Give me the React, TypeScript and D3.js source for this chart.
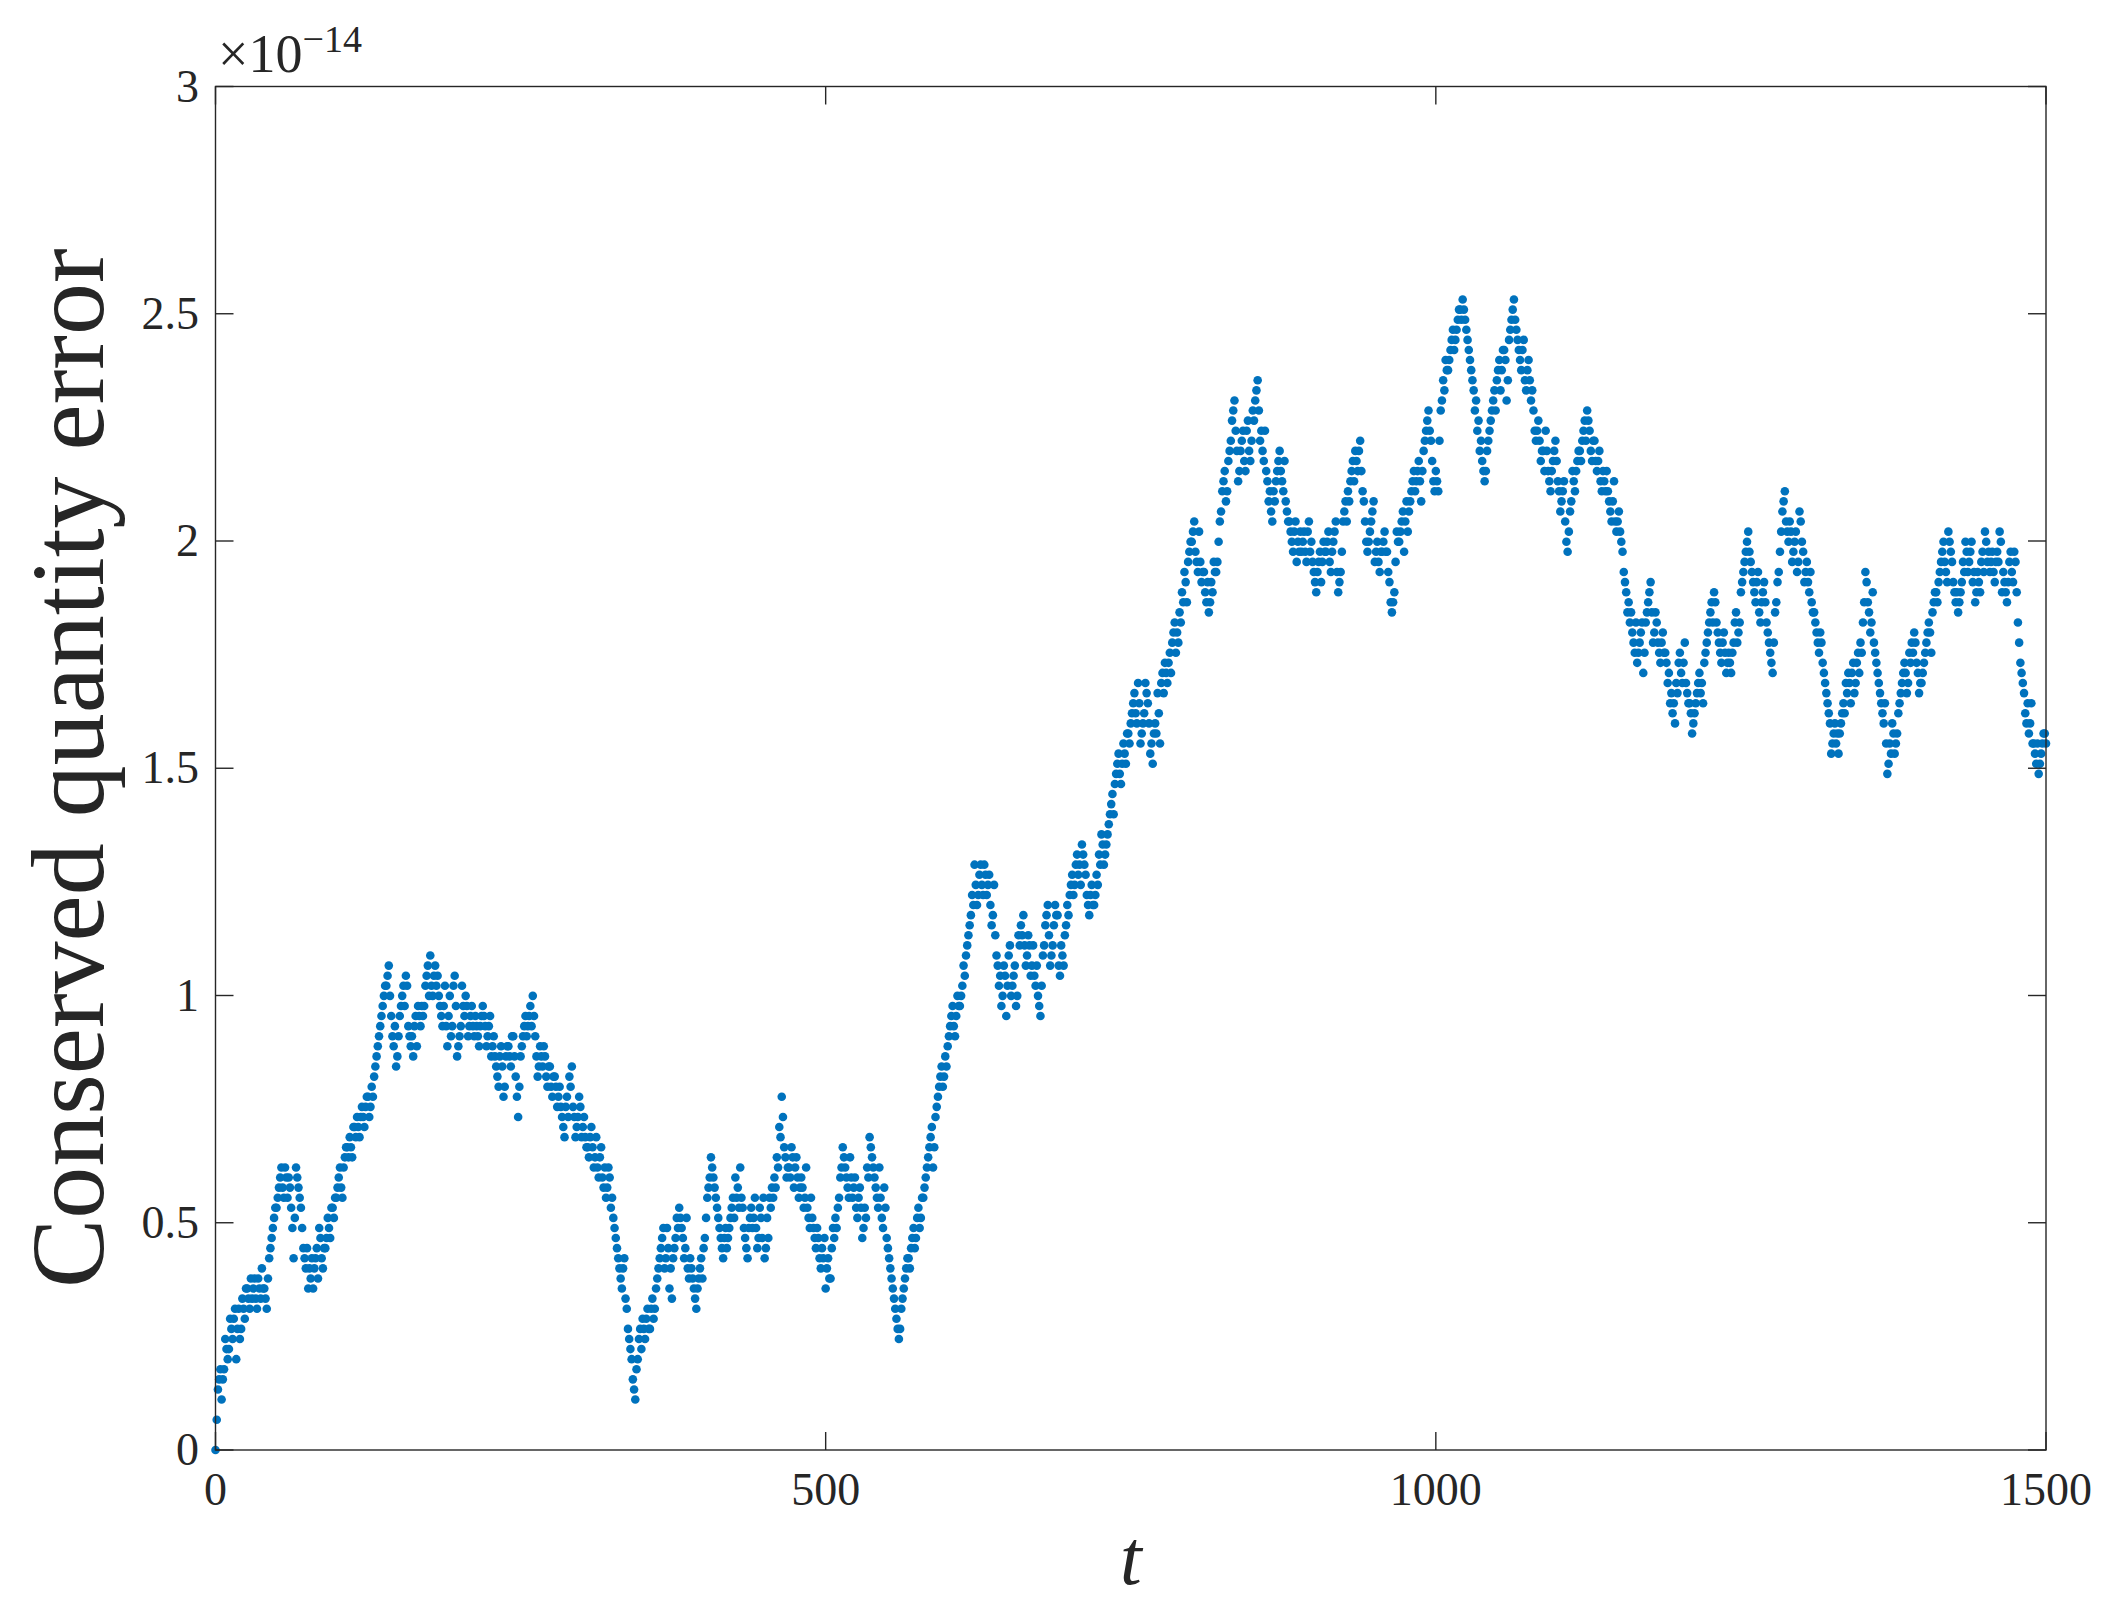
import React from "react";
import * as d3 from "d3";

// machine epsilon: the error takes integer multiples of it
const EPS = 2.220446049250313e-16;

// conserved-quantity error in units of EPS at even times t = 0, 2, 4, … 1500
const levelsEven: number[] = [
  0, 6, 8, 7, 11, 9, 13, 11, 14, 12, 11, 15, 13, 16, 14, 15, 17, 14, 16, 18, 16, 14, 19, 21, 23,
  24, 26, 28, 25, 27, 27, 24, 19, 28, 26, 24, 20, 18, 16, 17, 16, 19, 17, 21, 18, 20, 23, 21, 24, 25,
  26, 28, 25, 29, 30, 31, 29, 32, 33, 31, 34, 32, 35, 33, 36, 37, 39, 41, 43, 45, 46, 48, 43, 40, 38,
  41, 44, 46, 47, 42, 40, 39, 43, 44, 42, 43, 46, 48, 49, 45, 48, 47, 44, 42, 46, 40, 45, 42, 47, 39,
  41, 46, 43, 44, 42, 44, 41, 42, 40, 43, 43, 40, 42, 39, 41, 38, 36, 40, 35, 39, 40, 38, 41, 37, 33,
  39, 41, 43, 42, 44, 45, 41, 37, 40, 38, 39, 36, 38, 35, 37, 34, 36, 33, 31, 35, 37, 38, 33, 32, 35,
  31, 33, 30, 29, 32, 28, 31, 27, 30, 26, 25, 28, 24, 23, 21, 19, 17, 18, 15, 12, 10, 7, 5, 9, 12,
  13, 11, 14, 12, 15, 14, 17, 19, 21, 18, 22, 16, 15, 20, 23, 24, 22, 19, 23, 17, 18, 16, 14, 17, 19,
  20, 23, 26, 29, 27, 25, 23, 21, 19, 22, 21, 23, 25, 27, 26, 28, 24, 21, 19, 23, 22, 25, 20, 24, 21,
  19, 23, 25, 26, 27, 29, 32, 35, 30, 27, 28, 30, 26, 29, 25, 27, 24, 28, 23, 25, 22, 20, 21, 18, 19,
  16, 19, 17, 22, 23, 24, 27, 30, 28, 26, 29, 25, 27, 23, 26, 21, 24, 28, 31, 29, 27, 25, 28, 23, 26,
  21, 19, 17, 15, 13, 11, 14, 16, 18, 19, 20, 22, 21, 24, 23, 25, 27, 29, 31, 28, 33, 35, 37, 36, 39,
  40, 42, 44, 41, 45, 44, 46, 47, 50, 52, 55, 58, 54, 57, 56, 58, 55, 57, 52, 56, 49, 46, 44, 48, 43,
  49, 45, 47, 44, 51, 52, 53, 48, 51, 47, 50, 46, 45, 43, 49, 52, 54, 48, 50, 54, 53, 47, 49, 51, 54,
  55, 57, 56, 59, 58, 60, 58, 55, 53, 56, 54, 57, 59, 61, 58, 60, 62, 64, 63, 67, 69, 66, 70, 68, 71,
  72, 74, 73, 76, 70, 72, 76, 74, 69, 68, 72, 75, 70, 77, 78, 76, 79, 80, 82, 81, 83, 85, 87, 84, 89,
  90, 92, 88, 91, 86, 87, 84, 83, 86, 88, 87, 90, 93, 96, 94, 98, 100, 103, 101, 96, 99, 101, 97, 102, 98,
  103, 104, 106, 100, 99, 101, 96, 95, 92, 94, 97, 99, 96, 98, 93, 92, 90, 91, 88, 89, 89, 91, 88, 92, 90,
  87, 85, 88, 86, 90, 89, 91, 87, 90, 92, 85, 87, 92, 94, 95, 96, 98, 99, 97, 100, 95, 92, 89, 91, 93,
  88, 90, 87, 89, 91, 89, 86, 83, 85, 91, 90, 92, 89, 94, 93, 95, 97, 96, 98, 94, 99, 101, 103, 100, 96,
  97, 95, 103, 106, 108, 107, 109, 111, 110, 112, 113, 114, 112, 110, 108, 106, 103, 101, 99, 98, 96, 99, 101, 103, 105,
  106, 108, 107, 109, 104, 110, 112, 114, 111, 109, 107, 110, 105, 108, 104, 103, 100, 102, 98, 99, 101, 97, 95, 98, 100,
  96, 93, 95, 92, 89, 93, 97, 95, 98, 99, 100, 102, 103, 101, 98, 100, 97, 99, 95, 96, 97, 94, 92, 96, 91,
  93, 90, 87, 85, 84, 83, 80, 82, 79, 81, 77, 82, 84, 86, 80, 83, 80, 78, 81, 79, 76, 74, 73, 72, 75,
  79, 76, 80, 75, 74, 71, 73, 75, 77, 76, 78, 80, 82, 84, 85, 82, 80, 78, 81, 77, 79, 77, 80, 83, 81,
  85, 87, 89, 91, 88, 86, 84, 87, 82, 85, 84, 81, 79, 77, 83, 86, 89, 93, 95, 91, 92, 88, 90, 87, 93,
  90, 86, 88, 85, 84, 83, 81, 79, 80, 77, 75, 73, 69, 71, 70, 69, 72, 74, 76, 77, 74, 78, 76, 79, 80,
  82, 87, 84, 81, 85, 79, 77, 75, 73, 74, 67, 70, 72, 69, 71, 74, 76, 78, 75, 79, 80, 81, 78, 75, 76,
  78, 80, 82, 79, 84, 85, 86, 88, 90, 87, 91, 89, 86, 84, 83, 85, 88, 90, 87, 89, 86, 84, 87, 85, 89,
  91, 88, 87, 89, 86, 89, 91, 85, 86, 84, 88, 87, 89, 85, 80, 77, 75, 72, 71, 74, 70, 68, 67, 69, 71,
  70,
];

// conserved-quantity error in units of EPS at odd times t = 1, 3, 5, … 1499
const levelsOdd: number[] = [
  3, 7, 5, 8, 10, 10, 12, 13, 9, 14, 12, 14, 16, 15, 17, 16, 15, 17, 15, 16, 15, 17, 20, 22, 24,
  25, 27, 26, 28, 25, 26, 22, 23, 27, 25, 22, 19, 20, 18, 19, 18, 20, 22, 19, 20, 21, 22, 24, 23, 25,
  27, 26, 28, 30, 29, 30, 32, 31, 32, 33, 33, 34, 35, 34, 35, 38, 40, 42, 44, 46, 47, 45, 41, 42, 39,
  43, 45, 44, 46, 41, 41, 42, 40, 43, 44, 44, 47, 45, 46, 47, 46, 45, 43, 44, 42, 43, 41, 46, 44, 40,
  42, 44, 45, 41, 43, 42, 43, 41, 42, 44, 42, 41, 43, 40, 39, 37, 39, 38, 36, 40, 39, 41, 39, 35, 36,
  40, 42, 41, 43, 42, 43, 39, 38, 39, 40, 37, 38, 36, 37, 36, 35, 34, 32, 34, 33, 36, 34, 31, 33, 34,
  32, 31, 30, 31, 30, 29, 28, 29, 27, 28, 26, 27, 25, 22, 20, 18, 16, 19, 14, 11, 9, 6, 8, 11, 10,
  12, 13, 12, 14, 13, 16, 18, 20, 22, 19, 20, 18, 19, 21, 22, 23, 21, 20, 18, 19, 17, 15, 16, 18, 17,
  21, 25, 27, 28, 26, 24, 22, 20, 21, 20, 22, 24, 23, 25, 24, 25, 22, 20, 22, 24, 23, 22, 21, 23, 25,
  20, 21, 24, 25, 26, 28, 31, 33, 29, 28, 27, 29, 28, 27, 26, 26, 25, 24, 22, 23, 21, 22, 19, 20, 21,
  18, 17, 20, 21, 22, 25, 28, 29, 27, 25, 27, 26, 24, 25, 24, 22, 23, 27, 30, 28, 26, 24, 25, 22, 24,
  20, 18, 16, 14, 12, 12, 15, 17, 19, 18, 21, 20, 23, 22, 25, 26, 28, 30, 32, 30, 34, 36, 38, 37, 38,
  41, 43, 42, 43, 44, 45, 48, 49, 51, 53, 54, 56, 55, 58, 55, 57, 56, 54, 53, 51, 48, 47, 45, 47, 46,
  50, 46, 48, 45, 50, 51, 50, 49, 50, 48, 47, 48, 44, 46, 50, 53, 51, 49, 52, 53, 48, 50, 48, 52, 53,
  56, 55, 58, 57, 56, 59, 57, 54, 55, 54, 55, 56, 58, 60, 59, 61, 63, 65, 66, 68, 67, 68, 69, 71, 70,
  73, 75, 72, 74, 71, 73, 75, 72, 70, 71, 71, 73, 76, 75, 77, 78, 77, 81, 79, 80, 82, 84, 86, 88, 90,
  91, 89, 87, 88, 87, 85, 86, 84, 85, 87, 88, 92, 95, 97, 95, 99, 102, 104, 99, 97, 100, 98, 101, 99, 100,
  102, 105, 103, 101, 98, 97, 94, 93, 95, 96, 98, 97, 95, 94, 92, 91, 89, 92, 90, 91, 90, 89, 91, 89, 88,
  86, 87, 89, 88, 89, 90, 88, 89, 91, 87, 86, 89, 93, 92, 94, 97, 96, 98, 99, 97, 94, 90, 90, 92, 94,
  89, 88, 89, 90, 89, 87, 84, 84, 88, 90, 91, 93, 92, 91, 94, 96, 95, 97, 96, 97, 100, 102, 101, 98, 95,
  96, 100, 104, 105, 107, 108, 110, 109, 111, 113, 112, 113, 111, 109, 107, 105, 104, 102, 100, 97, 97, 100, 102, 104, 103,
  107, 105, 109, 108, 106, 111, 113, 112, 110, 108, 109, 106, 107, 106, 105, 101, 101, 100, 99, 97, 99, 96, 97, 99, 98,
  95, 94, 96, 90, 91, 94, 96, 97, 99, 98, 101, 100, 102, 99, 100, 98, 98, 96, 97, 95, 95, 93, 94, 92, 92,
  91, 89, 86, 83, 82, 81, 79, 78, 80, 82, 79, 83, 85, 83, 81, 82, 79, 80, 79, 78, 77, 75, 74, 76, 78,
  77, 78, 76, 74, 73, 72, 74, 76, 75, 74, 79, 81, 83, 82, 84, 81, 79, 80, 79, 78, 78, 79, 82, 80, 82,
  86, 88, 90, 89, 87, 85, 86, 83, 84, 86, 82, 80, 78, 80, 84, 87, 91, 94, 92, 90, 91, 89, 91, 88, 92,
  89, 87, 86, 87, 83, 82, 80, 81, 78, 76, 74, 72, 70, 72, 71, 71, 73, 73, 75, 76, 77, 75, 78, 77, 79,
  84, 86, 83, 82, 80, 78, 76, 74, 72, 70, 68, 69, 71, 70, 73, 75, 77, 77, 76, 78, 79, 80, 77, 76, 77,
  79, 81, 81, 83, 85, 84, 87, 89, 88, 86, 90, 88, 85, 85, 84, 86, 87, 89, 88, 90, 87, 85, 86, 88, 87,
  90, 89, 88, 87, 88, 88, 90, 87, 85, 86, 89, 86, 88, 82, 78, 76, 73, 74, 72, 70, 69, 70, 68, 70, 71,
];

const xTicks = [0, 500, 1000, 1500];
const yTicks = [0, 0.5, 1, 1.5, 2, 2.5, 3];
const yTickLabels = ["0", "0.5", "1", "1.5", "2", "2.5", "3"];
const Y_MULT = 1e-14;
const yExponentLabel = "\u221214";
const xLabel = "t";
const yLabel = "Conserved quantity error";

const W = 2114;
const H = 1601;
const M = { left: 215.5, right: 2046, top: 86.5, bottom: 1450 };
const INK = "#262626";
const BLUE = "#0072BD";
const FONT = "'Liberation Serif', 'Times New Roman', serif";

export default function App() {
  const x = d3.scaleLinear().domain([0, 1500]).range([M.left, M.right]);
  const y = d3.scaleLinear().domain([0, 3 * Y_MULT]).range([M.bottom, M.top]);
  const points = [
    ...levelsEven.map((lv, i) => ({ t: i * 2, v: lv * EPS })),
    ...levelsOdd.map((lv, i) => ({ t: i * 2 + 1, v: lv * EPS })),
  ];
  const tickLen = 18;

  return (
    <svg
      width={W}
      height={H}
      viewBox={`0 0 ${W} ${H}`}
      style={{ position: "absolute", left: 0, top: 0, background: "#fff" }}
    >
      <rect x={0} y={0} width={W} height={H} fill="#fff" />
      <g>
        {points.map((p, i) => (
          <circle key={i} cx={x(p.t)} cy={y(p.v)} r={4.3} fill={BLUE} />
        ))}
      </g>
      <rect
        x={M.left}
        y={M.top}
        width={M.right - M.left}
        height={M.bottom - M.top}
        fill="none"
        stroke={INK}
        strokeWidth={1.4}
      />
      {xTicks.map((t) => (
        <g key={"xt" + t}>
          <line x1={x(t)} x2={x(t)} y1={M.bottom} y2={M.bottom - tickLen} stroke={INK} strokeWidth={1.4} />
          <line x1={x(t)} x2={x(t)} y1={M.top} y2={M.top + tickLen} stroke={INK} strokeWidth={1.4} />
          <text x={x(t)} y={1505} textAnchor="middle" fontFamily={FONT} fontSize={46} fill={INK}>
            {t}
          </text>
        </g>
      ))}
      {yTicks.map((v, i) => (
        <g key={"yt" + v}>
          <line x1={M.left} x2={M.left + tickLen} y1={y(v * Y_MULT)} y2={y(v * Y_MULT)} stroke={INK} strokeWidth={1.4} />
          <line x1={M.right} x2={M.right - tickLen} y1={y(v * Y_MULT)} y2={y(v * Y_MULT)} stroke={INK} strokeWidth={1.4} />
          <text
            x={199}
            y={y(v * Y_MULT) + 15}
            textAnchor="end"
            fontFamily={FONT}
            fontSize={46}
            fill={INK}
          >
            {yTickLabels[i]}
          </text>
        </g>
      ))}
      <text x={218} y={72} fontFamily={FONT} fontSize={54} fill={INK}>
        {"\u00d710"}
        <tspan fontSize={38} dy={-20}>
          {yExponentLabel}
        </tspan>
      </text>
      <text
        x={(M.left + M.right) / 2}
        y={1584}
        textAnchor="middle"
        fontFamily={FONT}
        fontStyle="italic"
        fontSize={78}
        fill={INK}
      >
        {xLabel}
      </text>
      <text
        transform={`translate(103, ${(M.top + M.bottom) / 2}) rotate(-90)`}
        textAnchor="middle"
        fontFamily={FONT}
        fontSize={104}
        fill={INK}
      >
        {yLabel}
      </text>
    </svg>
  );
}
